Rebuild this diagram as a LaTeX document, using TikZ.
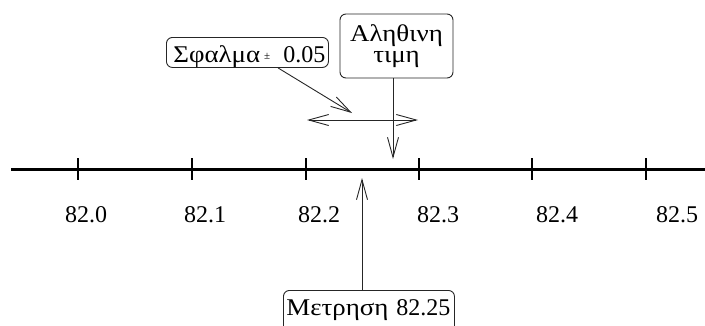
\documentclass[tikz,border=0pt]{standalone}
\usepackage{fontspec}
\setmainfont{Liberation Serif}
\newfontfamily\grk[FakeStretch=1.12]{Liberation Serif}
\usetikzlibrary{arrows.meta}
\begin{document}
\begin{tikzpicture}[x=1pt,y=-1pt,
  arr/.style={draw=black!85, line width=0.9pt, -{Straight Barb[length=20pt,width=11pt,line width=0.9pt]}},
  dblarr/.style={draw=black!85, line width=0.9pt, {Straight Barb[length=20pt,width=11pt,line width=0.9pt]}-{Straight Barb[length=20pt,width=11pt,line width=0.9pt]}},
  box/.style={draw=black!85, line width=0.9pt, rounded corners=6pt, font=\fontsize{24}{22}\selectfont, inner sep=0pt},
  lab/.style={font=\fontsize{24}{24}\selectfont, anchor=base, inner sep=0pt},
  axisln/.style={line width=3pt},
  tickln/.style={line width=2.8pt}]
\clip (0,0) rectangle (705,325);
% axis
\coordinate (axL) at (11,169);
\coordinate (axR) at (705,169);
\draw[axisln] (axL) -- (axR);
\foreach \x/\lx/\t [count=\i] in {78/86/82.0, 192/205/82.1, 306/319/82.2, 419/438/82.3, 532/557/82.4, 646/677/82.5}{
  \coordinate (t\i a) at (\x,158);
  \coordinate (t\i b) at (\x,180);
  \draw[tickln] (t\i a) -- (t\i b);
  \node[lab] (l\i) at (\lx,222) {\t};
}
% boxes
\node[box, anchor=north west, minimum width=162pt, text height=25pt, text depth=5pt,
      text width=148pt, inner xsep=7pt, align=left] (err) at (166,37)
  {\mbox{{\grk Σφαλμα}\hspace{4pt}\raisebox{3pt}{\fontsize{11}{11}\selectfont ±}\hspace{13pt}0.05}};
\node[box, minimum width=113pt, minimum height=64pt, align=center] (true) at (396.5,46)
  {{\grk Αληθινη}\\[-1pt]{\grk τιμη}};
\node[box, anchor=north west, minimum width=170pt, text height=25pt, text depth=25pt,
      text width=165pt, inner xsep=3pt, align=left] (meas) at (283,290)
  {\mbox{{\grk Μετρηση} 82.25}};
% arrows
\coordinate (tipT) at (393,159);
\coordinate (tipM) at (362,178);
\coordinate (tipE) at (352,113);
\coordinate (hL) at (307,120);
\coordinate (hR) at (418,120);
\draw[arr] (true.south -| tipT) -- (tipT);
\draw[arr] (meas.north -| tipM) -- (tipM);
\draw[arr] (err.south -| 278,0) -- (tipE);
\draw[dblarr] (hL) -- (hR);
\end{tikzpicture}
\end{document}
